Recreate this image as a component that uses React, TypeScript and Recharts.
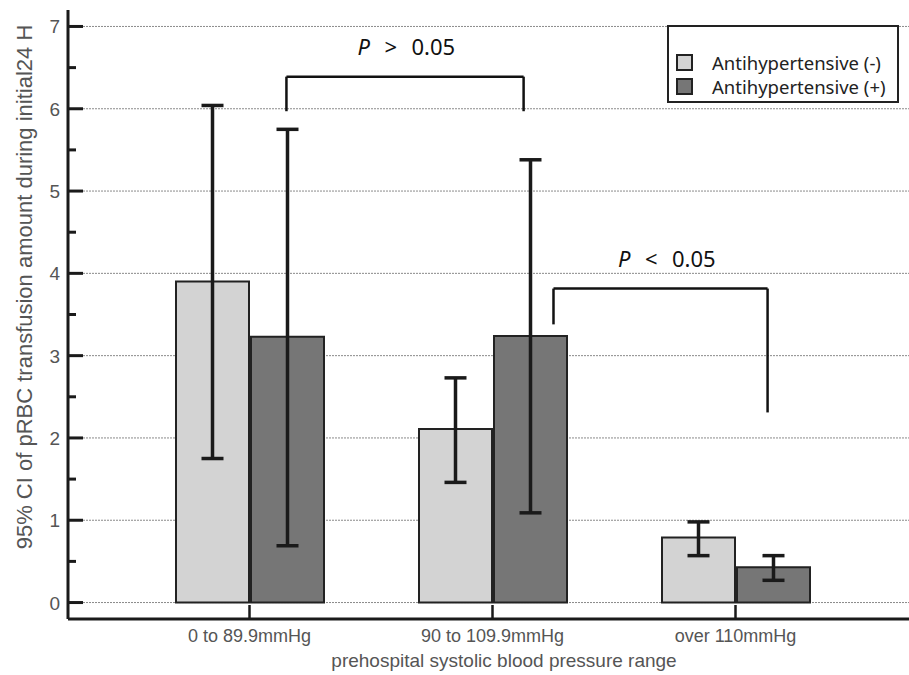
import React from "react";
import {
    BarChart,
    Bar,
    XAxis,
    YAxis,
    CartesianGrid,
    ErrorBar,
    ReferenceLine,
    ReferenceDot,
    Legend,
} from "recharts";

const categories = ["0 to 89.9mmHg", "90 to 109.9mmHg", "over 110mmHg"];

// Antihypertensive (-)
const noMedsMean = [3.9, 2.11, 0.79];
const noMedsLow = [1.75, 1.46, 0.57];
const noMedsHigh = [6.04, 2.73, 0.98];

// Antihypertensive (+)
const medsMean = [3.23, 3.24, 0.43];
const medsLow = [0.69, 1.09, 0.27];
const medsHigh = [5.75, 5.38, 0.57];

const seriesNames = ["Antihypertensive (-)", "Antihypertensive (+)"];

const yTicks = [0, 0.5, 1, 1.5, 2, 2.5, 3, 3.5, 4, 4.5, 5, 5.5, 6, 6.5, 7];
const yGrid = [0, 1, 2, 3, 4, 5, 6, 7];

// significance brackets, x in category units (0 = centre of first group)
const brackets = [
    { sign: ">", from: 0.152, to: 1.128, top: 6.39, leftEnd: 5.97, rightEnd: 5.97, textX: 0.654, textY: 6.65 },
    { sign: "<", from: 1.251, to: 2.132, top: 3.815, leftEnd: 3.38, rightEnd: 2.31, textX: 1.726, textY: 4.08 },
];

const W = 909;
const H = 675;
const Y_AXIS_W = 68;
const PAD_L = 60;
const PAD_R = 52;
const band = (W - Y_AXIS_W - PAD_L - PAD_R) / categories.length;
const posDomain = [
    -(PAD_L + band / 2) / band,
    categories.length - 1 + (PAD_R + band / 2) / band,
];

const LIGHT = "#d3d3d3";
const DARK = "#767676";
const INK = "#1a1a1a";
const TEXT = "#555";
const AXIS_FONT = "'Liberation Sans', Arial, sans-serif";
const NOTE_FONT = "'Noto Sans', sans-serif";

const data = categories.map((name, i) => ({
    name,
    pos: i,
    noMeds: noMedsMean[i],
    noMedsErr: [noMedsMean[i] - noMedsLow[i], noMedsHigh[i] - noMedsMean[i]],
    meds: medsMean[i],
    medsErr: [medsMean[i] - medsLow[i], medsHigh[i] - medsMean[i]],
}));

const YTick = (props: any) => {
    const { x, y, payload } = props;
    const major = Number.isInteger(payload.value);
    return (
        <g>
            <line x1={x} x2={x + (major ? 15 : 8)} y1={y} y2={y} stroke={INK} strokeWidth={3} />
            {major && (
                <text x={x - 8} y={y + 7} textAnchor="end" fontSize={19} fill={TEXT} fontFamily={AXIS_FONT}>
                    {payload.value}
                </text>
            )}
        </g>
    );
};

const XTick = (props: any) => {
    const { x, y, payload } = props;
    return (
        <g>
            <line x1={x} x2={x} y1={y} y2={y - 14} stroke={INK} strokeWidth={2.5} />
            <text x={x} y={y + 23} textAnchor="middle" fontSize={18} fill={TEXT} fontFamily={AXIS_FONT}>
                {payload.value}
            </text>
        </g>
    );
};

const LegendBox = () => (
    <div
        style={{
            boxSizing: "border-box",
            width: "100%",
            height: "100%",
            border: "2px solid #222",
            background: "#fff",
            paddingTop: 23,
            paddingLeft: 7,
            fontFamily: NOTE_FONT,
            fontSize: 18.5,
            color: "#222",
        }}
    >
        {seriesNames.map((name, i) => (
            <div key={name} style={{ display: "flex", alignItems: "center", height: 24 }}>
                <span
                    style={{
                        boxSizing: "border-box",
                        width: 17,
                        height: 17,
                        background: i === 0 ? LIGHT : DARK,
                        border: "2px solid #222",
                        marginRight: 19,
                    }}
                />
                {name}
            </div>
        ))}
    </div>
);

const noteLabel = (sign: string) => (props: any) => {
    const vb = props.viewBox;
    const cx = vb.x + vb.width / 2;
    const cy = vb.y + vb.height / 2;
    return (
        <g fontFamily={NOTE_FONT} fontSize={22} fill="#111">
            <text x={cx - 51} y={cy} fontStyle="italic">P</text>
            <text x={cx - 24} y={cy}>{sign}</text>
            <text x={cx + 3} y={cy}>0.05</text>
        </g>
    );
};

export default function App() {
    return (
        <div style={{ position: "absolute", left: 0, top: 0, background: "#fff" }}>
            <BarChart
                width={W}
                height={H}
                data={data}
                margin={{ top: 10, right: 0, bottom: 0, left: 0 }}
                barSize={73}
                barGap={2}
            >
                <CartesianGrid
                    vertical={false}
                    horizontalValues={yGrid}
                    stroke="#8a8a8a"
                    strokeDasharray="2 1"
                />
                <XAxis
                    dataKey="name"
                    height={56}
                    padding={{ left: PAD_L, right: PAD_R }}
                    axisLine={{ stroke: INK, strokeWidth: 3 }}
                    tickLine={false}
                    tickSize={0}
                    tickMargin={0}
                    tick={<XTick />}
                    interval={0}
                    label={() => (
                        <text
                            x={504}
                            y={667}
                            textAnchor="middle"
                            fontSize={19}
                            fill={TEXT}
                            fontFamily={AXIS_FONT}
                        >
                            prehospital systolic blood pressure range
                        </text>
                    )}
                />
                <XAxis
                    xAxisId="pos"
                    dataKey="pos"
                    type="number"
                    domain={posDomain}
                    allowDataOverflow
                    hide
                />
                <YAxis
                    width={Y_AXIS_W}
                    type="number"
                    domain={[-0.2, 7.2]}
                    allowDataOverflow
                    ticks={yTicks}
                    interval={0}
                    axisLine={{ stroke: INK, strokeWidth: 3 }}
                    tickLine={false}
                    tickSize={0}
                    tickMargin={0}
                    tick={<YTick />}
                    label={() => (
                        <text
                            x={32}
                            y={287}
                            transform="rotate(-90 32 287)"
                            textAnchor="middle"
                            fontSize={22}
                            fill={TEXT}
                            fontFamily={AXIS_FONT}
                        >
                            95% CI of pRBC transfusion amount during initial24 H
                        </text>
                    )}
                />
                <Legend
                    layout="vertical"
                    align="center"
                    verticalAlign="middle"
                    content={<LegendBox />}
                    wrapperStyle={{ left: 667, top: 25, width: 232, height: 78 }}
                />
                <Bar
                    dataKey="noMeds"
                    name={seriesNames[0]}
                    fill={LIGHT}
                    stroke="#222"
                    strokeWidth={2}
                    isAnimationActive={false}
                >
                    <ErrorBar dataKey="noMedsErr" direction="y" width={11} stroke={INK} strokeWidth={3.5} />
                </Bar>
                <Bar
                    dataKey="meds"
                    name={seriesNames[1]}
                    fill={DARK}
                    stroke="#222"
                    strokeWidth={2}
                    isAnimationActive={false}
                >
                    <ErrorBar dataKey="medsErr" direction="y" width={11} stroke={INK} strokeWidth={3.5} />
                </Bar>
                {brackets.map((b, i) => [
                    <ReferenceLine
                        key={`l${i}`}
                        xAxisId="pos"
                        segment={[{ x: b.from, y: b.leftEnd }, { x: b.from, y: b.top }]}
                        stroke="#111"
                        strokeWidth={2.5}
                        ifOverflow="visible"
                    />,
                    <ReferenceLine
                        key={`t${i}`}
                        xAxisId="pos"
                        segment={[{ x: b.from, y: b.top }, { x: b.to, y: b.top }]}
                        stroke="#111"
                        strokeWidth={2.5}
                        ifOverflow="visible"
                    />,
                    <ReferenceLine
                        key={`r${i}`}
                        xAxisId="pos"
                        segment={[{ x: b.to, y: b.top }, { x: b.to, y: b.rightEnd }]}
                        stroke="#111"
                        strokeWidth={2.5}
                        ifOverflow="visible"
                    />,
                    <ReferenceDot
                        key={`n${i}`}
                        xAxisId="pos"
                        x={b.textX}
                        y={b.textY}
                        r={1}
                        fill="none"
                        stroke="none"
                        ifOverflow="visible"
                        label={noteLabel(b.sign)}
                    />,
                ])}
            </BarChart>
        </div>
    );
}
